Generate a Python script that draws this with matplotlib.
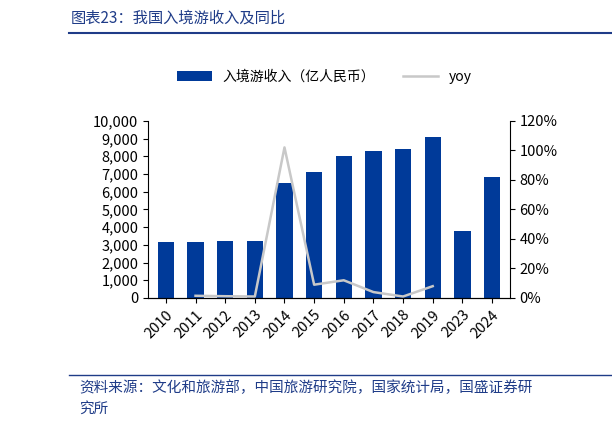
import matplotlib
matplotlib.use("Agg")
import matplotlib.pyplot as plt
from matplotlib.ticker import FuncFormatter
import numpy as np

plt.rcParams['font.family'] = ['Noto Sans CJK SC', 'DejaVu Sans']

years = ['2010','2011','2012','2013','2014','2015','2016','2017','2018','2019','2023','2024']
income = [3160, 3160, 3230, 3210, 6500, 7100, 8000, 8300, 8400, 9100, 3800, 6850]
yoy = [None, 1.5, 1.2, 1.0, 102, 9, 12, 4, 1, 8, None, None]

fig = plt.figure(figsize=(6.12, 4.30), dpi=100)
ax = fig.add_axes([0.242, 0.307, 0.591, 0.412])
x = np.arange(len(years))
bars = ax.bar(x, income, width=0.55, color='#003A99', label='入境游收入（亿人民币）')
ax.set_ylim(0, 10000)
ax.set_yticks(range(0, 10001, 1000))
ax.yaxis.set_major_formatter(FuncFormatter(lambda v, p: f'{int(v):,}'))
ax.set_xticks(x)
ax.set_xticklabels(years, rotation=45, ha='right', rotation_mode='anchor')
ax.set_xlim(-0.6, len(years) - 0.4)
for s in ['top', 'right']:
    ax.spines[s].set_visible(False)
ax.tick_params(labelsize=10.5)

ax2 = ax.twinx()
yx = [i for i, v in enumerate(yoy) if v is not None]
yv = [v for v in yoy if v is not None]
line, = ax2.plot(yx, yv, color='#C8C8C8', lw=1.8, label='yoy')
ax2.set_ylim(0, 120)
ax2.set_yticks(range(0, 121, 20))
ax2.yaxis.set_major_formatter(FuncFormatter(lambda v, p: f'{int(v)}%'))
ax2.tick_params(labelsize=10.5)
for s in ['top', 'left']:
    ax2.spines[s].set_visible(False)

fig.legend([bars, line], ['入境游收入（亿人民币）', 'yoy'], loc='center', bbox_to_anchor=(0.53, 0.822),
           ncol=2, frameon=False, fontsize=10, handlelength=2.5)

fig.text(0.115, 0.958, '图表23：我国入境游收入及同比', color='#1F3C88', fontsize=11, style='italic', va='center')
fig.add_artist(plt.Line2D([0.113, 1.0], [0.923, 0.923], color='#1F3C88', lw=1.5))
fig.add_artist(plt.Line2D([0.113, 1.0], [0.128, 0.128], color='#1F3C88', lw=1.0))
fig.text(0.13, 0.098, '资料来源：文化和旅游部，中国旅游研究院，国家统计局，国盛证券研', color='#1F3C88', fontsize=10.5, style='italic', va='center')
fig.text(0.13, 0.05, '究所', color='#1F3C88', fontsize=10.5, style='italic', va='center')

fig.savefig('out.png', dpi=100)
